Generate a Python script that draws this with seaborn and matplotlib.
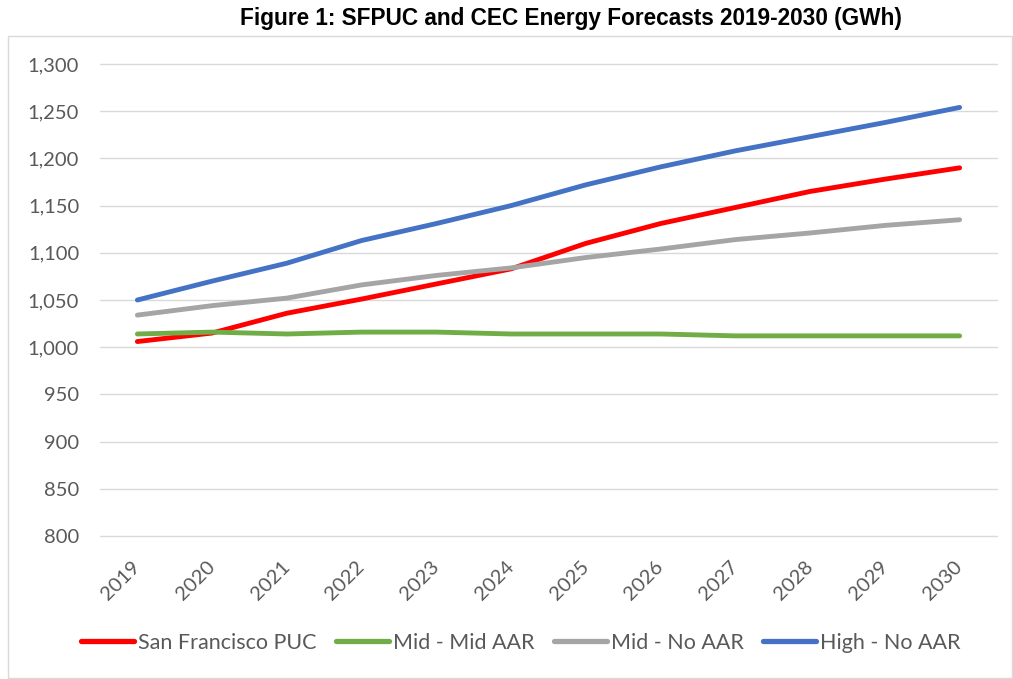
import numpy as np
import pandas as pd
import matplotlib
matplotlib.use("Agg")
import matplotlib.pyplot as plt
import seaborn as sns
from matplotlib.patches import Rectangle
from matplotlib.ticker import FuncFormatter

years = list(range(2019, 2031))
sfpuc = [1006, 1015, 1036, 1051, 1067, 1083, 1110, 1131, 1148, 1165, 1178, 1190]
mid_mid_aar = [1014, 1016, 1014, 1016, 1016, 1014, 1014, 1014, 1012, 1012, 1012, 1012]
mid_no_aar = [1034, 1044, 1052, 1066, 1076, 1084, 1095, 1104, 1114, 1121, 1129, 1135]
high_no_aar = [1050, 1070, 1089, 1113, 1131, 1150, 1172, 1191, 1208, 1223, 1238, 1254]

series = {
    "San Francisco PUC": sfpuc,
    "Mid - Mid AAR": mid_mid_aar,
    "Mid - No AAR": mid_no_aar,
    "High - No AAR": high_no_aar,
}
colors = {
    "San Francisco PUC": "#FF0000",
    "Mid - Mid AAR": "#70AD47",
    "Mid - No AAR": "#A5A5A5",
    "High - No AAR": "#4472C4",
}

df = pd.DataFrame(
    [(name, y, v) for name, vals in series.items() for y, v in zip(years, vals)],
    columns=["series", "year", "gwh"],
)

sns.set_theme(style="white")
plt.rcParams["font.family"] = ["Lato", "DejaVu Sans"]

fig = plt.figure(figsize=(10.13, 6.79), dpi=100)
W, H = 1013, 679

# chart frame
fig.patches.append(Rectangle((8 / W, 1 / H), 1004 / W, (H - 36 - 1) / H,
                             transform=fig.transFigure, fill=False,
                             edgecolor="#D9D9D9", linewidth=1))

ax = fig.add_axes([100 / W, 1 - 536 / H, 897 / W, 472 / H])
sns.lineplot(data=df, x="year", y="gwh", hue="series", palette=colors,
             linewidth=3.5, ax=ax, legend=False)
for line in ax.lines:
    line.set_solid_capstyle("round")

ax.set_xlim(2018.5, 2030.5)
ax.set_ylim(800, 1300)
ax.set_yticks(np.arange(800, 1301, 50))
ax.yaxis.set_major_formatter(FuncFormatter(lambda v, p: f"{int(v):,}"))
ax.set_xticks(years)
ax.set_xticklabels([str(y) for y in years], rotation=45, ha="right",
                   va="center", rotation_mode="anchor")
ax.grid(axis="y", color="#D9D9D9", linewidth=1)
for gl in ax.get_ygridlines():
    gl.set_clip_on(False)
ax.set_axisbelow(True)
for s in ax.spines.values():
    s.set_visible(False)
ax.tick_params(axis="both", length=0, labelsize=14.5, colors="#595959")
ax.tick_params(axis="y", pad=15)
ax.tick_params(axis="x", pad=20)
ax.set_xlabel("")
ax.set_ylabel("")

fig.text(571 / W, 1 - 19 / H, "Figure 1: SFPUC and CEC Energy Forecasts 2019-2030 (GWh)",
         ha="center", va="center", fontsize=16.3, fontweight="bold",
         family=["Liberation Sans", "DejaVu Sans"], color="black")

handles = [plt.Line2D([], [], color=colors[n], linewidth=3.8,
                      solid_capstyle="round") for n in series]
leg = fig.legend(handles, list(series.keys()), loc="center", ncol=4,
                 bbox_to_anchor=(521 / W, 1 - 643 / H), frameon=False,
                 handlelength=2.45, handletextpad=0.2, columnspacing=0.9,
                 prop={"size": 15.5})
for t in leg.get_texts():
    t.set_color("#595959")

fig.savefig("out.png", dpi=100)
